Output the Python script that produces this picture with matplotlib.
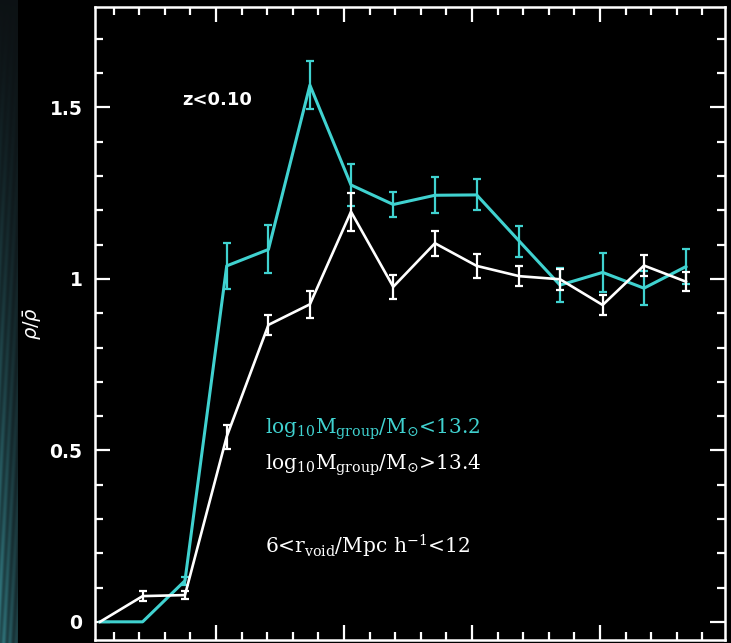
import numpy as np
import matplotlib.pyplot as plt
from matplotlib.ticker import MultipleLocator

# bin centres (arbitrary distance units) and densities for the two group-mass samples
x_bins = [0.094, 0.427, 0.758, 1.084, 1.410, 1.734, 2.055, 2.385,
          2.711, 3.037, 3.370, 3.688, 4.021, 4.344, 4.672]

low_mass = [0.0, 0.0, 0.120, 1.038, 1.086, 1.565, 1.274, 1.217,
            1.244, 1.245, 1.110, 0.982, 1.019, 0.973, 1.036]
low_mass_err = [0.0, 0.0, 0.012, 0.068, 0.070, 0.070, 0.060, 0.036,
                0.052, 0.045, 0.045, 0.049, 0.056, 0.049, 0.050]

high_mass = [0.0, 0.075, 0.078, 0.540, 0.866, 0.926, 1.196, 0.977,
             1.104, 1.038, 1.008, 0.999, 0.924, 1.039, 0.992]
high_mass_err = [0.0, 0.015, 0.012, 0.035, 0.030, 0.039, 0.056, 0.035,
                 0.037, 0.034, 0.030, 0.030, 0.028, 0.030, 0.027]

y_ticks = [0, 0.5, 1, 1.5]
y_ticklabels = ["0", "0.5", "1", "1.5"]

CYAN = "#40d2d0"
WHITE = "white"

fig = plt.figure(figsize=(7.31, 6.43), dpi=100, facecolor="black")

# textured teal strip down the left edge
strip = fig.add_axes([0, 0, 18 / 731, 1])
h, w = 300, 20
yy, xx = np.mgrid[0:h, 0:w]
grad = (yy / h) ** 1.2
streak = 0.5 + 0.5 * np.sin(xx * 0.9 + yy * 0.12)
fade = np.clip(1.0 - xx / w * 0.6, 0, 1)
val = grad * (0.55 + 0.45 * streak) * fade
img = np.zeros((h, w, 3))
img[..., 0] = 0.05 + 0.15 * val
img[..., 1] = 0.07 + 0.42 * val
img[..., 2] = 0.08 + 0.44 * val
strip.imshow(img, aspect="auto", origin="upper", interpolation="bilinear")
strip.set_axis_off()

ax = fig.add_axes([95 / 731, 3 / 643, 630 / 731, 633 / 643])
ax.set_facecolor("black")


def draw_series(xs, ys, errs, color, lw):
    ax.plot(xs, ys, color=color, lw=lw, zorder=3)
    xe = [x for x, e in zip(xs, errs) if e > 0]
    ye = [y for y, e in zip(ys, errs) if e > 0]
    ee = [e for e in errs if e > 0]
    ax.errorbar(xe, ye, yerr=ee, fmt="none", ecolor=color,
                elinewidth=1.6, capsize=3, capthick=1.6, zorder=3)


draw_series(x_bins, low_mass, low_mass_err, CYAN, 2.2)
draw_series(x_bins, high_mass, high_mass_err, WHITE, 1.9)

ax.set_xlim(0.055, 4.977)
ax.set_ylim(-0.053, 1.793)

ax.xaxis.set_major_locator(MultipleLocator(1))
ax.xaxis.set_minor_locator(MultipleLocator(0.2))
ax.set_yticks(y_ticks)
ax.set_yticklabels(y_ticklabels)
ax.yaxis.set_minor_locator(MultipleLocator(0.1))

ax.tick_params(which="both", direction="in", color="white", width=1.6,
               top=True, right=True, labelbottom=False)
ax.tick_params(which="major", length=10.5)
ax.tick_params(which="minor", length=5.5)
ax.tick_params(axis="y", labelcolor="white", labelsize=13.5, pad=9)
for lab in ax.get_yticklabels():
    lab.set_fontweight("bold")

for sp in ax.spines.values():
    sp.set_color("white")
    sp.set_linewidth(1.8)

ax.set_ylabel(r"$\rho/\bar{\rho}$", color="white", fontsize=14, labelpad=4)

ax.text(0.733, 1.522, "z<0.10", color="white", fontsize=13,
        fontweight="bold", va="center", ha="left")

serif = "DejaVu Serif"
ax.text(1.383, 0.550, r"$\mathregular{log_{10}M_{group}/M_{\odot}}$<13.2",
        color=CYAN, fontsize=14.5, family=serif, va="baseline")
ax.text(1.383, 0.445, r"$\mathregular{log_{10}M_{group}/M_{\odot}}$>13.4",
        color=WHITE, fontsize=14.5, family=serif, va="baseline")
ax.text(1.383, 0.200, r"6<$\mathregular{r_{void}/Mpc\ h^{-1}}$<12",
        color=WHITE, fontsize=14.5, family=serif, va="baseline")

fig.savefig("out.png", dpi=100, facecolor="black")
